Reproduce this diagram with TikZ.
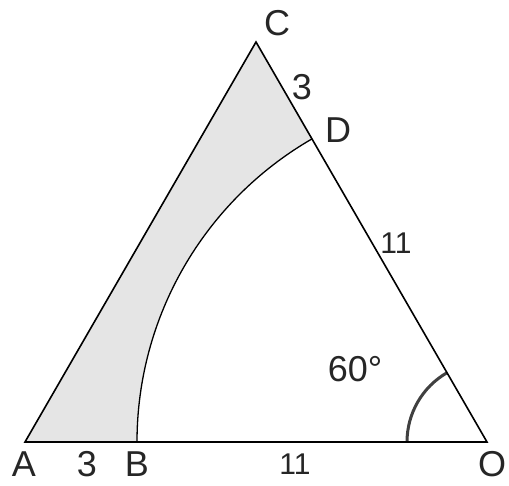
\documentclass[tikz,border=0pt]{standalone}
\usepackage{fontspec}
\setmainfont{Liberation Sans}
\usetikzlibrary{calc}
\begin{document}
\begin{tikzpicture}[x=1pt,y=1pt,
  side/.style={line width=1.6pt,black},
  arcline/.style={line width=1.3pt,black},
  anglearc/.style={line width=3pt,black!75},
  lab/.style={font=\fontsize{36}{40}\selectfont,inner sep=0pt,text=black!85},
  slab/.style={font=\fontsize{30}{34}\selectfont,inner sep=0pt,text=black!85}]
\useasboundingbox (0,0) rectangle (509,486);
\coordinate (O) at (487,44);
\coordinate (A) at (25,44);
\coordinate (C) at (256,444);
\coordinate (B) at (137,44);
\coordinate (D) at ($(O)+(120:350)$);
\fill[black!10] (A) -- (C) -- (D) arc[start angle=120,end angle=180,radius=350] -- cycle;
\draw[arcline] (B) arc[start angle=180,end angle=120,radius=350];
\draw[anglearc] ($(O)+(180:80)$) arc[start angle=180,end angle=120,radius=80];
\draw[side,line join=miter] (A) -- (C) -- (O) -- cycle;
\node[lab] (lC) at (277,463) {C};
\node[lab] (l3r) at (302,399) {3};
\node[lab] (lD) at (338,356) {D};
\node[slab] (l11r) at (396,243) {11};
\node[lab] (l60) at (355,117) {60°};
\node[lab] (lA) at (24,22) {A};
\node[lab] (l3b) at (87,22) {3};
\node[lab] (lB) at (137,22) {B};
\node[slab] (l11b) at (295,22) {11};
\node[lab] (lO) at (492,22) {O};
\end{tikzpicture}
\end{document}
